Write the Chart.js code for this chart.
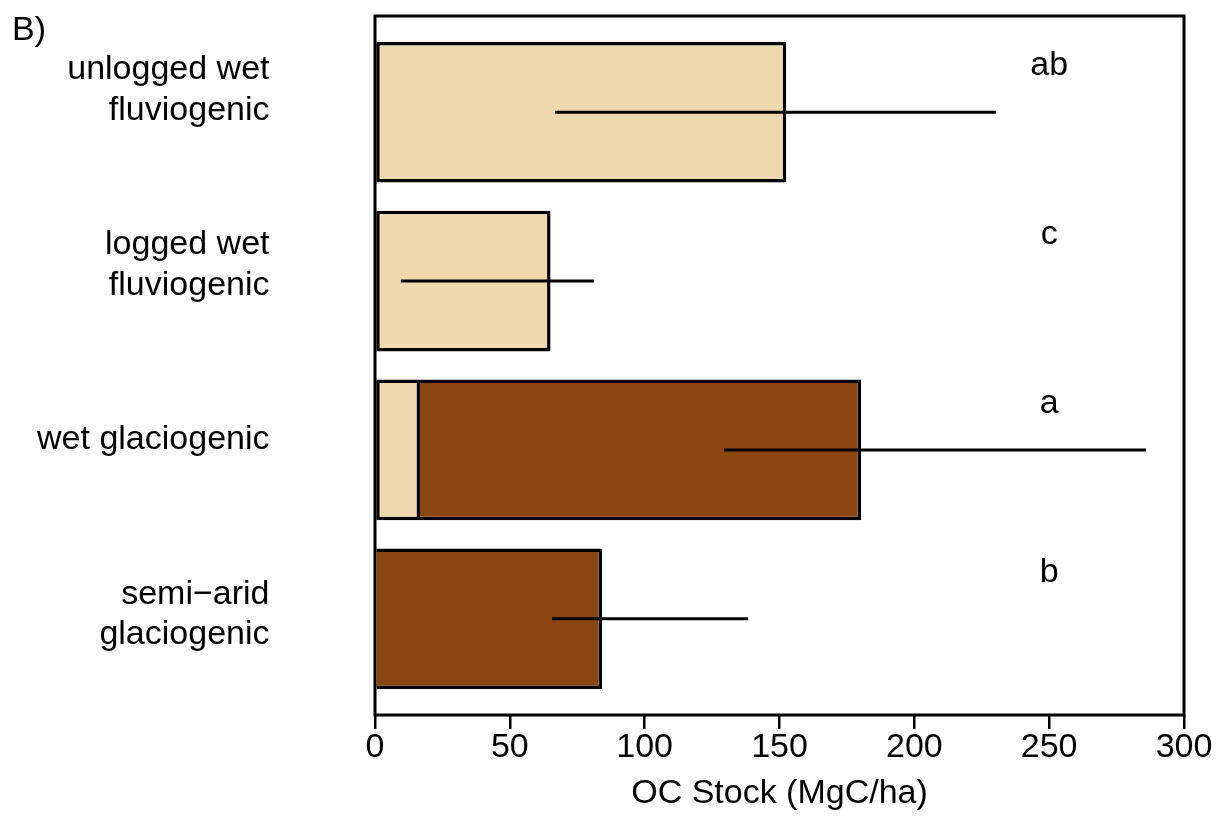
<!DOCTYPE html>
<html lang="en">
<head>
<meta charset="UTF-8">
<title>OC Stock</title>
<style>
  body { margin: 0; background: #fff; }
</style>
</head>
<body>
<canvas id="chart" width="1216" height="816"></canvas>
<script src="https://cdn.jsdelivr.net/npm/chart.js"></script>
<script>
// values
const categories = [['unlogged wet', 'fluviogenic'], ['logged wet', 'fluviogenic'], 'wet glaciogenic', ['semi\u2212arid', 'glaciogenic']];
const fluvioStock = [152.5, 65.1, 16.7, 0.5];
const glacioStock = [null, null, 163.6, 83.7];
const rangeLow = [66.7, 9.6, 129.4, 65.7];
const rangeHigh = [230.3, 81.2, 285.9, 138.4];
const letters = ['ab', 'c', 'a', 'b'];
const letterAt = 250;
const xTicks = [0, 50, 100, 150, 200, 250, 300];

const FONT = '"Liberation Sans", Arial, sans-serif';

// barplot slots (width 1, space 0.2)
const slot = i => 0.7 + 1.2 * i;
const toPoints = arr => arr.map((v, i) => ({ x: v, y: slot(i) })).filter(p => p.x !== null);

const extras = {
  id: 'extras',
  afterDatasetsDraw(chart) {
    const { ctx, chartArea: a, scales: { x, y } } = chart;
    ctx.save();
    ctx.strokeStyle = '#000';
    ctx.lineWidth = 3;
    rangeLow.forEach((lo, i) => {
      const py = y.getPixelForValue(slot(i));
      ctx.beginPath();
      ctx.moveTo(x.getPixelForValue(lo), py);
      ctx.lineTo(x.getPixelForValue(rangeHigh[i]), py);
      ctx.stroke();
    });
    ctx.fillStyle = '#000';
    ctx.font = '34px ' + FONT;
    ctx.textAlign = 'center';
    ctx.textBaseline = 'middle';
    letters.forEach((t, i) => {
      ctx.fillText(t, x.getPixelForValue(letterAt), y.getPixelForValue(slot(i) - 0.33));
    });
    ctx.strokeRect(a.left, a.top, a.width, a.height);
    ctx.textAlign = 'left';
    ctx.textBaseline = 'alphabetic';
    ctx.fillText('B)', 12, 40);
    ctx.restore();
  }
};

new Chart(document.getElementById('chart'), {
  type: 'bar',
  data: {
    datasets: [{
      label: 'fluviogenic',
      data: toPoints(fluvioStock),
      backgroundColor: '#EED8AE',
      borderColor: '#000',
      borderWidth: { top: 3.5, bottom: 3.5, left: 3.5, right: 3.5 },
      borderSkipped: false
    }, {
      label: 'glaciogenic',
      data: toPoints(glacioStock),
      backgroundColor: '#8B4513',
      borderColor: '#000',
      borderWidth: { top: 3.5, bottom: 3.5, left: 0, right: 3.5 },
      borderSkipped: false
    }]
  },
  options: {
    indexAxis: 'y',
    responsive: false,
    animation: false,
    categoryPercentage: 1,
    barPercentage: 1 / 1.2,
    layout: { padding: { top: 16, right: 32, bottom: 0, left: 0 } },
    plugins: { legend: { display: false }, tooltip: { enabled: false } },
    scales: {
      x: {
        type: 'linear',
        min: 0,
        max: 300,
        stacked: true,
        grid: { display: true, drawOnChartArea: false, drawTicks: true, tickLength: 14, color: '#000', lineWidth: 2.5 },
        border: { display: false },
        ticks: { color: '#000', font: { family: FONT, size: 34, lineHeight: 1.2 }, padding: -2, maxRotation: 0, autoSkip: false },
        title: { display: true, text: 'OC Stock (MgC/ha)', color: '#000', font: { family: FONT, size: 34, lineHeight: 1.2 }, padding: { top: 0, bottom: 2 } },
        afterBuildTicks(s) { s.ticks = xTicks.map(v => ({ value: v })); },
        afterFit(s) { s.height = 101; s.paddingLeft = 0; s.paddingRight = 0; }
      },
      y: {
        type: 'linear',
        min: 0.016,
        max: 4.984,
        reverse: true,
        stacked: true,
        offset: false,
        display: false,
        afterBuildTicks(s) { s.ticks = categories.map((c, i) => ({ value: slot(i) })); }
      },
      yl: {
        type: 'category',
        axis: 'y',
        position: 'left',
        labels: categories,
        offset: true,
        grid: { display: false, drawTicks: false },
        border: { display: false },
        ticks: { color: '#000', font: { family: FONT, size: 34, lineHeight: 1.2 }, padding: 105.5, labelOffset: -13, autoSkip: false },
        afterFit(s) { s.width = 375; s.paddingTop = 0; s.paddingBottom = 0; }
      }
    }
  },
  plugins: [extras]
});
</script>
</body>
</html>
